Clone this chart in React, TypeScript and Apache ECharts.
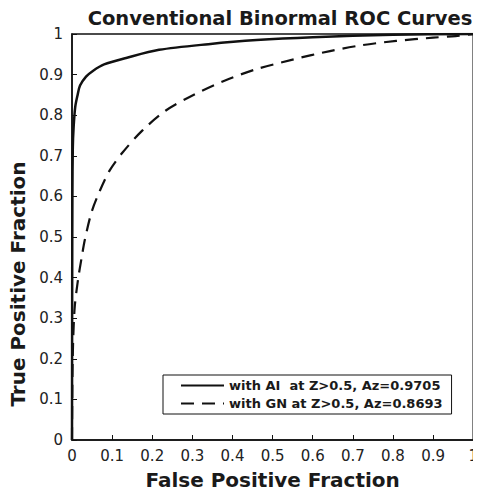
import React, { useEffect, useRef } from "react";
import * as echarts from "echarts";

const title = "Conventional Binormal ROC Curves";
const xName = "False Positive Fraction";
const yName = "True Positive Fraction";
const seriesNames = ["with AI  at Z>0.5, Az=0.9705", "with GN at Z>0.5, Az=0.8693"];

const aiFpf = [0, 0.0005, 0.001, 0.002, 0.004, 0.008, 0.014, 0.02, 0.035, 0.052, 0.08, 0.135, 0.217, 0.34, 0.46, 0.6, 0.8, 1];
const aiTpf = [0, 0.4, 0.6, 0.72, 0.77, 0.82, 0.85, 0.873, 0.895, 0.909, 0.925, 0.941, 0.961, 0.975, 0.985, 0.992, 0.998, 1];

const gnFpf = [0, 0.001, 0.003, 0.007, 0.015, 0.024, 0.032, 0.049, 0.07, 0.094, 0.126, 0.175, 0.233, 0.299, 0.38, 0.455, 0.55, 0.643, 0.72, 0.808, 0.9, 0.956, 1];
const gnTpf = [0, 0.15, 0.25, 0.33, 0.395, 0.449, 0.493, 0.562, 0.615, 0.664, 0.708, 0.762, 0.811, 0.848, 0.885, 0.912, 0.937, 0.958, 0.972, 0.983, 0.991, 0.995, 1];

const FONT = "DejaVu Sans";

function fmt(v: number) {
  return String(Math.round(v * 10) / 10);
}

export default function App() {
  const ref = useRef<HTMLDivElement>(null);
  useEffect(() => {
    if (!ref.current) return;
    const chart = echarts.init(ref.current, undefined, { renderer: "svg" });
    const axisCommon = {
      type: "value" as const,
      min: 0,
      max: 1,
      interval: 0.1,
      nameLocation: "middle" as const,
      axisLine: { show: true, lineStyle: { color: "#111", width: 1.5 } },
      axisTick: { show: true, inside: true, length: 5, lineStyle: { color: "#111" } },
      splitLine: { show: false },
    };
    const nameStyle = { fontFamily: FONT, fontSize: 20, fontWeight: "bold", color: "#1a1a1a" };
    chart.setOption({
      animation: false,
      backgroundColor: "#fff",
      title: {
        text: title,
        left: 275,
        textAlign: "center",
        top: 3,
        textStyle: { fontFamily: FONT, fontSize: 19.5, fontWeight: "bold", color: "#1a1a1a" },
      },
      grid: {
        left: 72,
        right: 3,
        top: 34,
        bottom: 54,
        show: true,
        borderColor: "#111",
        borderWidth: 1.5,
        backgroundColor: "#fff",
      },
      legend: {
        left: 163,
        top: 375,
        orient: "vertical",
        backgroundColor: "#fff",
        borderColor: "#111",
        borderWidth: 1,
        borderRadius: 0,
        padding: [4, 9, 4, 17],
        itemGap: 5,
        itemWidth: 43,
        itemHeight: 12,
        itemStyle: { opacity: 0 },
        textStyle: { fontFamily: FONT, fontSize: 13, fontWeight: "bold", color: "#1a1a1a" },
        data: seriesNames,
      },
      xAxis: {
        ...axisCommon,
        name: xName,
        nameGap: 30,
        nameTextStyle: nameStyle,
        axisLabel: { margin: 8, fontFamily: FONT, fontSize: 15, color: "#222", formatter: fmt },
      },
      yAxis: {
        ...axisCommon,
        name: yName,
        nameGap: 44,
        nameTextStyle: { ...nameStyle, padding: [0, 94, 0, 0] },
        axisLabel: { margin: 9, fontFamily: FONT, fontSize: 15, color: "#222", formatter: fmt },
      },
      series: [
        {
          name: seriesNames[0],
          type: "line",
          symbol: "none",
          smooth: 0.3,
          data: aiFpf.map((x, i) => [x, aiTpf[i]]),
          lineStyle: { color: "#111", width: 2.5, type: "solid" },
          itemStyle: { color: "#111" },
        },
        {
          name: seriesNames[1],
          type: "line",
          symbol: "none",
          smooth: 0.3,
          data: gnFpf.map((x, i) => [x, gnTpf[i]]),
          lineStyle: { color: "#111", width: 2.2, type: [13, 8] },
          itemStyle: { color: "#111" },
        },
      ],
    });
    return () => chart.dispose();
  }, []);
  return <div ref={ref} style={{ width: 481, height: 495, margin: -8 }} />;
}
